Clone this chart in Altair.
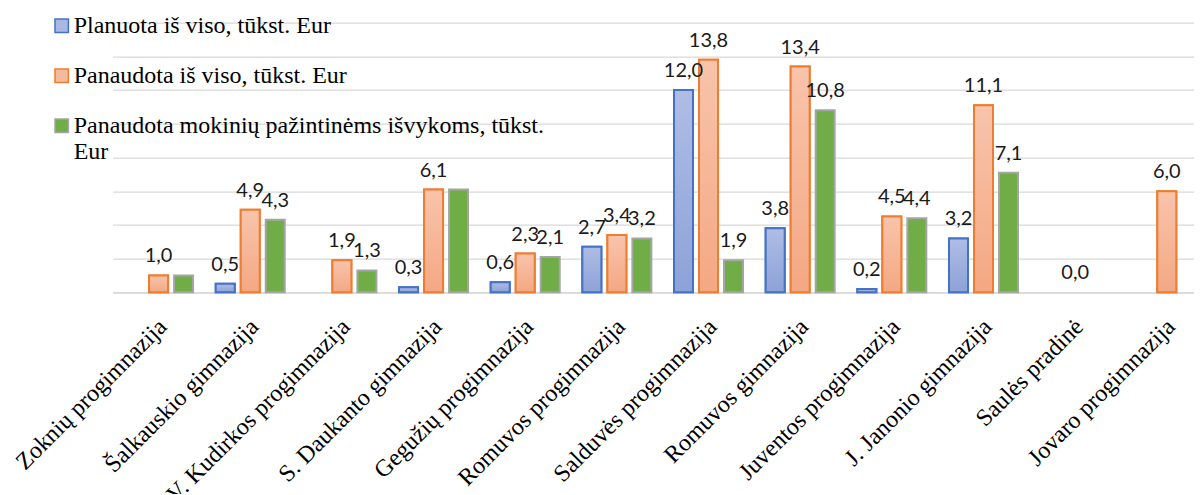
import json
import altair as alt
import pandas as pd

categories = [
    "Zoknių progimnazija", "Šalkauskio gimnazija", "V. Kudirkos progimnazija",
    "S. Daukanto gimnazija", "Gegužių progimnazija", "Romuvos progimnazija",
    "Salduvės progimnazija", "Romuvos gimnazija", "Juventos progimnazija",
    "J. Janonio gimnazija", "Saulės pradinė", "Jovaro progimnazija",
]
series_names = [
    "Planuota iš viso, tūkst. Eur",
    "Panaudota iš viso, tūkst. Eur",
    "Panaudota mokinių pažintinėms išvykoms, tūkst. Eur",
]
planned = [None, 0.5, None, 0.3, 0.6, 2.7, 12.0, 3.8, 0.2, 3.2, None, None]
used = [1.0, 4.9, 1.9, 6.1, 2.3, 3.4, 13.8, 13.4, 4.5, 11.1, 0.0, 6.0]
trips = [1.0, 4.3, 1.3, 6.1, 2.1, 3.2, 1.9, 10.8, 4.4, 7.1, None, None]
# which value labels are printed in the original (hidden ones overlapped)
trips_label_shown = [False, True, True, False, True, True, True, True, True, True, False, False]

rows = []
for i, cat in enumerate(categories):
    for s, vals, shown in (
        (series_names[0], planned, [True] * len(categories)),
        (series_names[1], used, [True] * len(categories)),
        (series_names[2], trips, trips_label_shown),
    ):
        if vals[i] is not None:
            rows.append({"category": cat, "series": s, "value": vals[i], "show": shown[i]})
df = pd.DataFrame(rows)

legend_fills = ["#a9b8e2", "#f7b99c", "#70ad47"]
bar_strokes = ["#4472c4", "#ed7d31", "#a5a5a5"]

SERIF = "Times New Roman, Liberation Serif, serif"

wrap = series_names[2].rsplit(" ", 1)
label_expr = "datum.label == %s ? %s : datum.label" % (json.dumps(series_names[2], ensure_ascii=False),
                                                        json.dumps(wrap, ensure_ascii=False))

legend = alt.Legend(
    title=None, orient="none", legendX=-66, legendY=-9, symbolType="square",
    symbolSize=180, symbolStrokeWidth=1.5, symbolOffset=3, labelFont=SERIF,
    labelFontSize=24, labelColor="black", labelLimit=0, labelOffset=0,
    rowPadding=26, padding=0, labelExpr=label_expr,
)

base = alt.Chart(df).encode(
    x=alt.X(
        "category:N",
        scale=alt.Scale(domain=categories, range=[0, 1100], paddingInner=0.247, paddingOuter=0.124),
        axis=alt.Axis(
            title=None, labelAngle=-45, labelAlign="right", labelBaseline="top",
            labelPadding=22, labelOffset=-4, labelFont=SERIF,
            labelFontSize=24, labelColor="black", ticks=False, domainColor="#d9d9d9",
            domainWidth=1.5, labelLimit=0, grid=False, labelOverlap=False,
        ),
    ),
    xOffset=alt.XOffset("series:N", scale=alt.Scale(domain=series_names, paddingInner=0.24, paddingOuter=0)),
    y=alt.Y(
        "value:Q",
        scale=alt.Scale(domain=[0, 16]),
        axis=alt.Axis(
            title=None, labels=False, ticks=False, domain=False,
            values=list(range(0, 17, 2)), gridColor="#d9d9d9", gridWidth=1.3,
        ),
    ),
)

bars = base.transform_filter("datum.value > 0").mark_bar(strokeWidth=2).encode(
    fill=alt.Fill("series:N", scale=alt.Scale(domain=series_names, range=legend_fills), legend=legend),
    stroke=alt.Stroke("series:N", scale=alt.Scale(domain=series_names, range=bar_strokes), legend=legend),
)

grad_blue = alt.Gradient(
    gradient="linear", x1=0, x2=0, y1=0, y2=1,
    stops=[alt.GradientStop(color="#afbde5", offset=0), alt.GradientStop(color="#8da2d8", offset=1)],
)
grad_orange = alt.Gradient(
    gradient="linear", x1=0, x2=0, y1=0, y2=1,
    stops=[alt.GradientStop(color="#f8c4ab", offset=0), alt.GradientStop(color="#f4a883", offset=1)],
)

over_blue = base.transform_filter(
    alt.datum.value > 0
).transform_filter(alt.datum.series == series_names[0]).mark_bar(
    fill=grad_blue, stroke=bar_strokes[0], strokeWidth=2
)
over_orange = base.transform_filter(
    alt.datum.value > 0
).transform_filter(alt.datum.series == series_names[1]).mark_bar(
    fill=grad_orange, stroke=bar_strokes[1], strokeWidth=2
)

labels = base.transform_filter("datum.show").transform_calculate(
    label="replace(format(datum.value, '.1f'), '.', ',')"
).mark_text(font="Lato", fontSize=20, color="#1a1a1a", baseline="alphabetic", dy=-13).encode(
    text="label:N"
)

chart = alt.layer(bars, over_blue, over_orange, labels).properties(
    width=1081, height=269.6,
    padding={"left": 104.7, "top": 14.7, "right": 0, "bottom": 202},
    autosize="none",
).configure_view(stroke=None)

chart.save("out.html", embed_options={"renderer": "svg", "actions": False})
